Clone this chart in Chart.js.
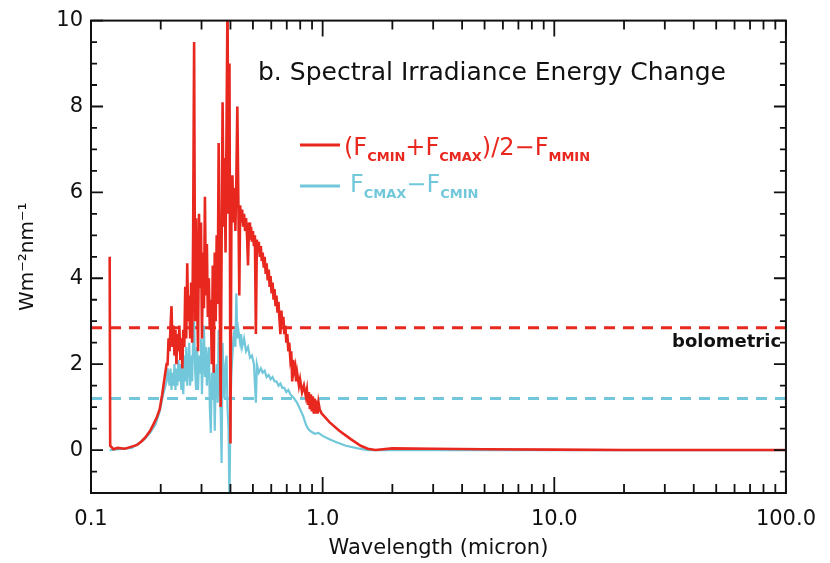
<!DOCTYPE html>
<html>
<head>
<meta charset="utf-8">
<script src="https://cdn.jsdelivr.net/npm/chart.js@4.4.0/dist/chart.umd.min.js"></script>
<style>
  html, body { margin: 0; padding: 0; background: #fff; }
  #wrap { width: 830px; height: 563px; }
</style>
</head>
<body>
<div id="wrap"><canvas id="irradianceChart" width="830" height="563"></canvas></div>
<script>
// wavelength (micron) / value (W m-2 nm-1)
const redWave = [
    0.1204, 0.1210, 0.125, 0.13, 0.14, 0.15, 0.158, 0.165, 0.172, 0.180, 0.186, 0.192, 0.198, 0.203, 0.208, 0.212,
    0.2141, 0.2162, 0.2183, 0.2205, 0.2226, 0.2248, 0.2270, 0.2292, 0.2315, 0.2337,
    0.2360, 0.2384, 0.2407, 0.2431, 0.2455, 0.2479, 0.2503, 0.2528, 0.2552, 0.2577,
    0.2603, 0.2628, 0.2654, 0.2680, 0.2706, 0.2733, 0.2760, 0.2787, 0.2814, 0.2842,
    0.2870, 0.2898, 0.2926, 0.2955, 0.2984, 0.3013, 0.3043, 0.3073, 0.3103, 0.3133,
    0.3164, 0.3195, 0.3226, 0.3258, 0.3290, 0.3322, 0.3355, 0.3387, 0.3421, 0.3454,
    0.3488, 0.3523, 0.3557, 0.3592, 0.3628, 0.3663, 0.3699, 0.3736, 0.3772, 0.3809,
    0.3847, 0.3884, 0.3922, 0.3961, 0.4000, 0.4039, 0.4079, 0.4119, 0.4159, 0.4200,
    0.4241, 0.4283,
    0.4325, 0.4367, 0.4405, 0.4447, 0.4492, 0.4536, 0.458, 0.4625, 0.467, 0.4716,
    0.4763, 0.481, 0.4857, 0.4905, 0.4953, 0.500, 0.505, 0.510, 0.515, 0.520,
    0.5252, 0.530, 0.5355, 0.541, 0.546, 0.551, 0.5568, 0.562, 0.5678, 0.573,
    0.579, 0.585, 0.5904, 0.596, 0.602, 0.608, 0.6139, 0.620, 0.626, 0.632,
    0.6383, 0.6446, 0.6509, 0.657, 0.6637, 0.670, 0.6768, 0.683, 0.6902, 0.697,
    0.7038, 0.711, 0.7176, 0.7247, 0.7318, 0.739, 0.7462, 0.7535, 0.7609, 0.768,
    0.7759,
    0.79, 0.799, 0.815, 0.83, 0.846, 0.855, 0.864, 0.872, 0.881, 0.890,
    0.898, 0.907, 0.916, 0.925, 0.934, 0.943, 0.952, 0.960, 0.971, 0.99,
    1.01, 1.07, 1.18, 1.327, 1.46, 1.566, 1.69, 2.0, 3.0, 5.0,
    10.0, 20.0, 50.0, 100.0];
const redVals = [
    4.5, 0.1, 0.02, 0.05, 0.03, 0.08, 0.12, 0.2, 0.3, 0.45, 0.6, 0.75, 0.95, 1.3, 1.7, 2.0,
    2.0, 2.6, 2.3, 2.9, 3.35, 2.4, 2.9, 2.2, 2.8, 2.0,
    2.7, 2.3, 2.9, 2.1, 2.6, 1.9, 2.8, 2.4, 3.8, 2.6,
    4.35, 3.0, 3.6, 2.6, 3.9, 2.5, 5.0, 9.5, 3.0, 5.4,
    3.6, 2.3, 5.5, 3.8, 5.3, 2.6, 4.6, 3.3, 5.9, 3.6,
    4.8, 3.1, 4.0, 2.8, 3.5, 2.0, 4.3, 1.8, 4.6, 3.0,
    5.0, 3.4, 7.15, 3.8, 1.0, 4.8, 8.1, 5.2, 6.8, 4.6,
    7.5, 10.5, 5.5, 9.0, 0.15, 5.6, 6.4, 5.3, 6.1, 5.1,
    6.3, 8.0,
    5.9, 3.6, 5.7, 5.3, 5.6, 5.2, 5.5, 5.1, 5.4, 5.0,
    4.3, 5.3, 4.9, 5.2, 4.85, 5.1, 4.75, 5.0, 2.7, 4.9,
    4.6, 4.85, 4.5, 4.75, 4.4, 4.6, 4.25, 4.5, 4.1, 4.35,
    3.95, 4.2, 3.8, 4.05, 3.65, 3.9, 3.5, 3.75, 3.35, 3.6,
    3.2, 3.45, 3.05, 2.7, 3.25, 2.9, 3.1, 2.7, 2.9, 2.5,
    2.7, 2.3, 2.5, 2.15, 2.3, 1.6, 2.1, 1.85, 1.95, 1.6,
    1.8,
    1.5, 1.65, 1.35, 1.5, 1.25, 1.4, 1.05, 1.35, 0.95, 1.3,
    0.9, 1.25, 0.85, 1.2, 0.85, 1.15, 0.85, 1.1, 0.95, 0.85,
    0.8, 0.65, 0.45, 0.25, 0.1, 0.03, 0.0, 0.04, 0.03, 0.02,
    0.01, 0.0, 0.0, 0.0];

const cyanWave = [
    0.1204, 0.15, 0.17, 0.18, 0.19, 0.198, 0.205, 0.212,
    0.2141, 0.2183, 0.2205, 0.2226, 0.2248, 0.2270, 0.2292, 0.2315, 0.2337, 0.2360,
    0.2384, 0.2407, 0.2431, 0.2455, 0.2479, 0.2503, 0.2528, 0.2552, 0.2577, 0.2603,
    0.2628, 0.2654, 0.2680, 0.2706, 0.2733, 0.2760, 0.2787, 0.2814, 0.2842, 0.2870,
    0.2898, 0.2926, 0.2955, 0.2984, 0.3013, 0.3043, 0.3073, 0.3103, 0.3133, 0.3164,
    0.3195, 0.3226, 0.3258, 0.3290, 0.3322, 0.3355, 0.3387, 0.3421, 0.3454, 0.3488,
    0.3523, 0.3557, 0.3592, 0.3628, 0.3663, 0.3699, 0.3736, 0.3772, 0.3809, 0.3847,
    0.3884, 0.3922, 0.3961, 0.4000, 0.4039, 0.4079, 0.4119, 0.4159, 0.4200, 0.4241,
    0.4283, 0.4325,
    0.4405, 0.4447, 0.4492, 0.458, 0.467, 0.4763, 0.4857, 0.4953, 0.505, 0.515,
    0.520, 0.530, 0.541, 0.551, 0.562, 0.573, 0.585, 0.596, 0.608, 0.620,
    0.632, 0.645, 0.657, 0.670, 0.683, 0.697, 0.711, 0.725, 0.739, 0.754,
    0.776, 0.799, 0.823, 0.846, 0.864, 0.881, 0.898, 0.925, 0.96, 1.0,
    1.07, 1.147, 1.26, 1.42, 1.566, 2.0, 10.0, 100.0];
const cyanVals = [
    0.0, 0.05, 0.25, 0.4, 0.6, 0.9, 1.3, 1.6,
    1.9, 1.5, 1.9, 1.4, 1.8, 1.5, 2.0, 1.4, 1.9, 1.5,
    2.1, 1.6, 2.0, 1.4, 1.9, 1.3, 2.2, 1.6, 2.4, 1.5,
    2.0, 2.5, 1.5, 2.2, 1.6, 2.6, 3.0, 1.9, 1.4, 2.4,
    1.4, 2.2, 1.8, 2.6, 1.3, 2.2, 2.9, 1.7, 2.4, 1.5,
    2.1, 2.4, 1.0, 0.4, 1.8, 1.2, 2.0, 0.45, 1.7, 2.0,
    1.1, 2.8, 1.5, 0.9, -0.3, 2.5, 1.6, 1.2, 2.0, 2.2,
    1.0, 0.5, -1.2, 1.0, 1.8, 2.2, 2.6, 2.8, 2.4, 3.65,
    2.6, 2.8,
    2.5, 2.7, 2.4, 2.6, 2.3, 2.4, 2.15, 2.2, 2.0, 1.1,
    2.0, 1.8, 1.9, 1.8, 1.85, 1.7, 1.75, 1.65, 1.7, 1.6,
    1.6, 1.5, 1.55, 1.45, 1.45, 1.35, 1.4, 1.3, 1.25, 1.2,
    1.1, 0.95, 0.8, 0.6, 0.5, 0.45, 0.42, 0.38, 0.4, 0.33,
    0.25, 0.18, 0.1, 0.04, 0.0, 0.0, 0.0, 0.0];

// bolometric levels (dashed)
const bolometricWave = [0.1, 100.0];
const redBolometric = [2.85, 2.85];
const cyanBolometric = [1.2, 1.2];

// axis ticks
const xMajorTicks = [0.1, 1, 10, 100];
const xMinorTicks = [0.2, 0.3, 0.4, 0.5, 0.6, 0.7, 0.8, 0.9, 2, 3, 4, 5, 6, 7, 8, 9, 20, 30, 40, 50, 60, 70, 80, 90];
const yMajorTicks = [0, 2, 4, 6, 8, 10];

const RED = '#e8281f';
const CYAN = '#72c8da';
const FONT = '"DejaVu Sans"';

function toPoints(xs, ys) {
    return xs.map((v, i) => ({ x: v, y: ys[i] }));
}

function drawRich(ctx, x, y, parts) {
    parts.forEach(([txt, sub]) => {
        ctx.font = sub ? 'bold 13px ' + FONT : '24px ' + FONT;
        ctx.fillText(txt, x, sub ? y + 6 : y);
        x += ctx.measureText(txt).width;
    });
}

// frame, inward tick marks and the in-plot texts
const framePlugin = {
    id: 'frame',
    afterDatasetsDraw(chart) {
        const { ctx, chartArea: a, scales: { x, y } } = chart;
        ctx.save();
        ctx.strokeStyle = '#111';
        ctx.lineWidth = 2;
        ctx.strokeRect(a.left, a.top, a.right - a.left, a.bottom - a.top);

        ctx.lineWidth = 1.8;
        ctx.beginPath();
        xMajorTicks.concat(xMinorTicks).forEach(v => {
            const px = x.getPixelForValue(v);
            const len = xMajorTicks.includes(v) ? 16 : 9;
            ctx.moveTo(px, a.bottom); ctx.lineTo(px, a.bottom - len);
            ctx.moveTo(px, a.top); ctx.lineTo(px, a.top + len);
        });
        for (let v = -0.5; v <= 10; v += 0.5) {
            const py = y.getPixelForValue(v);
            const len = yMajorTicks.includes(v) ? 12 : 6;
            ctx.moveTo(a.left, py); ctx.lineTo(a.left + len, py);
            ctx.moveTo(a.right, py); ctx.lineTo(a.right - len, py);
        }
        ctx.stroke();

        // title
        ctx.fillStyle = '#111';
        ctx.textBaseline = 'alphabetic';
        ctx.textAlign = 'left';
        ctx.font = '25px ' + FONT;
        ctx.fillText('b. Spectral Irradiance Energy Change', 258, 80);

        // legend
        ctx.lineWidth = 3;
        ctx.strokeStyle = RED;
        ctx.beginPath(); ctx.moveTo(300, 145); ctx.lineTo(340, 145); ctx.stroke();
        ctx.fillStyle = RED;
        drawRich(ctx, 344, 155, [['(F', 0], ['CMIN', 1], ['+F', 0], ['CMAX', 1], [')/2\u2212F', 0], ['MMIN', 1]]);

        ctx.strokeStyle = CYAN;
        ctx.beginPath(); ctx.moveTo(300, 186); ctx.lineTo(340, 186); ctx.stroke();
        ctx.fillStyle = CYAN;
        drawRich(ctx, 350, 192, [['F', 0], ['CMAX', 1], ['\u2212F', 0], ['CMIN', 1]]);

        ctx.fillStyle = '#111';
        ctx.font = 'bold 18px ' + FONT;
        ctx.fillText('bolometric', 672, 347);
        ctx.restore();
    }
};

const irradianceChart = new Chart(document.getElementById('irradianceChart'), {
    type: 'line',
    data: {
        datasets: [
            {
                label: '(FCMIN+FCMAX)/2-FMMIN',
                data: toPoints(redWave, redVals),
                borderColor: RED,
                borderWidth: 2.6
            },
            {
                label: 'FCMAX-FCMIN',
                data: toPoints(cyanWave, cyanVals),
                borderColor: CYAN,
                borderWidth: 2.2
            },
            {
                label: 'bolometric red',
                data: toPoints(bolometricWave, redBolometric),
                borderColor: RED,
                borderWidth: 3,
                borderDash: [11, 8]
            },
            {
                label: 'bolometric cyan',
                data: toPoints(bolometricWave, cyanBolometric),
                borderColor: CYAN,
                borderWidth: 3,
                borderDash: [11, 8]
            }
        ]
    },
    options: {
        responsive: false,
        animation: false,
        elements: { point: { radius: 0 }, line: { tension: 0 } },
        layout: { padding: { top: 12, right: 34, left: 0, bottom: 0 } },
        plugins: { legend: { display: false }, tooltip: { enabled: false } },
        scales: {
            x: {
                type: 'logarithmic',
                min: 0.1,
                max: 100,
                grid: { display: false, drawTicks: false },
                border: { display: false },
                afterBuildTicks: scale => { scale.ticks = xMajorTicks.map(v => ({ value: v })); },
                afterFit: scale => { scale.height = 70; },
                ticks: {
                    autoSkip: false,
                    maxRotation: 0,
                    padding: 14,
                    color: '#111',
                    font: { family: 'DejaVu Sans', size: 21 },
                    callback: v => Number(v).toFixed(1)
                },
                title: {
                    display: true,
                    text: 'Wavelength (micron)',
                    color: '#111',
                    font: { family: 'DejaVu Sans', size: 21 },
                    padding: { top: 0, bottom: 2 }
                }
            },
            y: {
                min: -1,
                max: 10,
                grid: { display: false, drawTicks: false },
                border: { display: false },
                afterBuildTicks: scale => { scale.ticks = yMajorTicks.map(v => ({ value: v })); },
                afterFit: scale => { scale.width = 91; },
                ticks: {
                    padding: 8,
                    color: '#111',
                    font: { family: 'DejaVu Sans', size: 21 }
                },
                title: {
                    display: true,
                    text: 'Wm\u207B\u00B2nm\u207B\u00B9',
                    color: '#111',
                    font: { family: 'DejaVu Sans', size: 20 },
                    padding: { top: 16, bottom: 0 }
                }
            }
        }
    },
    plugins: [framePlugin]
});
</script>
</body>
</html>
